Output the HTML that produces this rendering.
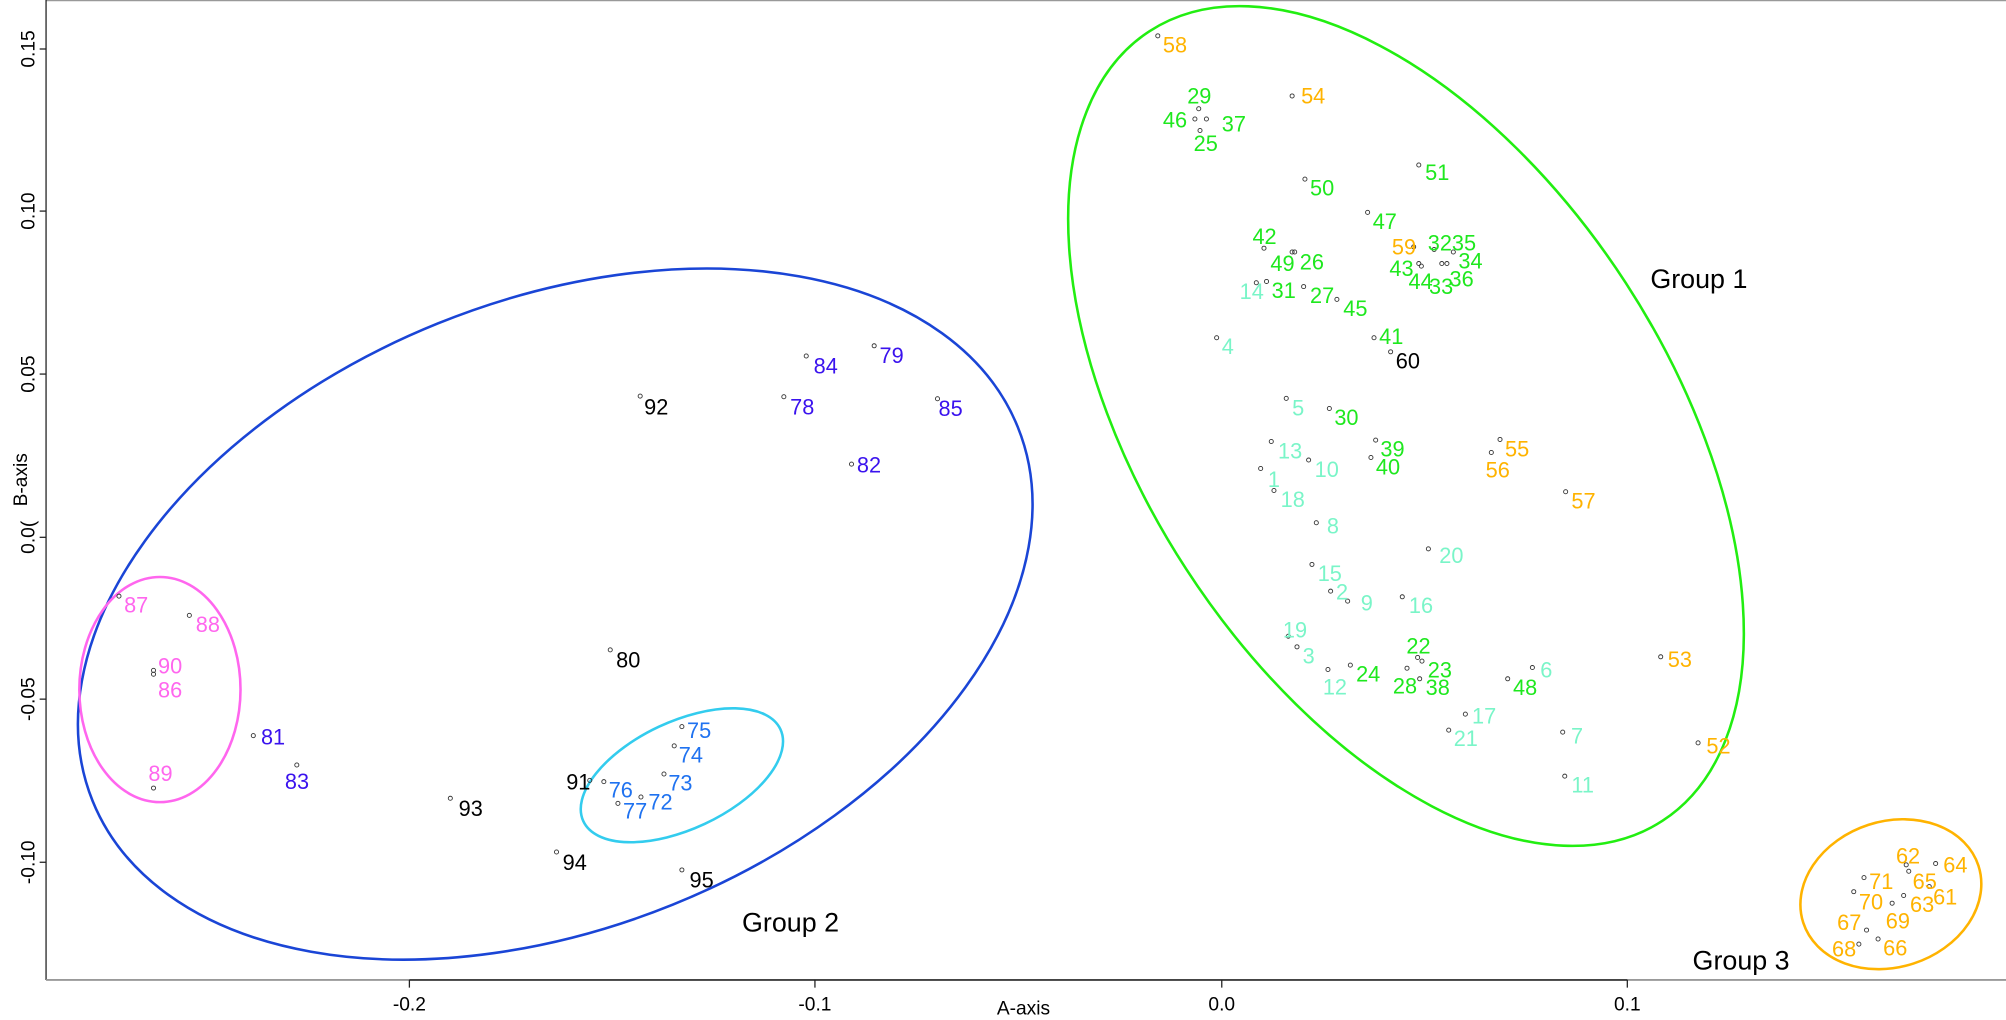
<!DOCTYPE html>
<html><head><meta charset="utf-8"><style>
html,body{margin:0;padding:0;background:#fff;width:2006px;height:1020px;overflow:hidden;}
svg{display:block;position:absolute;left:0;top:0;}
text{font-family:"Liberation Sans",Arial,sans-serif;}
.g{fill:#1ee81e}.l{fill:#7af5c8}.o{fill:#ffb300}.p{fill:#3a12ee}.b{fill:#1f72f0}.m{fill:#ff66ee}.k{fill:#000}
.lab text{font-size:17px;dominant-baseline:central;}
.pt circle{fill:none;stroke:#333;stroke-width:0.7;}
</style></head><body>
<svg width="2006" height="1020" viewBox="0 0 1568 797.3" preserveAspectRatio="none" xmlns="http://www.w3.org/2000/svg" overflow="hidden">
<rect width="1568" height="797.3" fill="#fff"/>
<line x1="36" y1="0.5" x2="1568" y2="0.5" stroke="#999" stroke-width="1"/>
<line x1="36" y1="0" x2="36" y2="766" stroke="#222" stroke-width="1"/>
<line x1="36" y1="766" x2="1568" y2="766" stroke="#999" stroke-width="1.5"/>
<line x1="320" y1="766" x2="1272" y2="766" stroke="#444" stroke-width="1.5"/>
<g stroke="#222" stroke-width="1">
<line x1="320" y1="766" x2="320" y2="772"/><line x1="637" y1="766" x2="637" y2="772"/>
<line x1="955" y1="766" x2="955" y2="772"/><line x1="1272" y1="766" x2="1272" y2="772"/>
<line x1="31" y1="38.3" x2="36" y2="38.3"/><line x1="31" y1="165" x2="36" y2="165"/>
<line x1="31" y1="292.4" x2="36" y2="292.4"/><line x1="31" y1="420" x2="36" y2="420"/>
<line x1="31" y1="546.5" x2="36" y2="546.5"/><line x1="31" y1="674" x2="36" y2="674"/>
</g>
<g font-size="15" fill="#000" text-anchor="middle">
<text x="320" y="790">-0.2</text><text x="637" y="790">-0.1</text><text x="955" y="790">0.0</text><text x="1272" y="790">0.1</text>
<text x="800" y="793">A-axis</text>
<text transform="translate(27,38.3) rotate(-90)">0.15</text>
<text transform="translate(27,165) rotate(-90)">0.10</text>
<text transform="translate(27,292.4) rotate(-90)">0.05</text>
<text transform="translate(27,420) rotate(-90)">0.0(</text>
<text transform="translate(27,546.5) rotate(-90)">-0.05</text>
<text transform="translate(27,674) rotate(-90)">-0.10</text>
<text transform="translate(21,375) rotate(-90)">B-axis</text>
</g>
<g fill="none" stroke-width="2">
<ellipse cx="1099" cy="333" rx="368" ry="205" transform="rotate(57 1099 333)" stroke="#22ee11"/>
<ellipse cx="434" cy="480" rx="390" ry="245" transform="rotate(-22 434 480)" stroke="#1a45d6"/>
<ellipse cx="125" cy="539" rx="63" ry="88" stroke="#ff66ee"/>
<ellipse cx="533" cy="606" rx="85" ry="42" transform="rotate(-25 533 606)" stroke="#33ccee"/>
<ellipse cx="1478" cy="699" rx="72" ry="57" transform="rotate(-18 1478 699)" stroke="#ffb300"/>
</g>
<g font-size="21" fill="#000">
<text x="1290" y="225">Group 1</text>
<text x="580" y="728">Group 2</text>
<text x="1323" y="758">Group 3</text>
</g>
<g class="pt">
<circle cx="905" cy="28" r="1.6"/><circle cx="1010" cy="75" r="1.6"/><circle cx="937" cy="85" r="1.6"/><circle cx="934" cy="93" r="1.6"/><circle cx="943" cy="93" r="1.6"/><circle cx="938" cy="102" r="1.6"/>
<circle cx="1020" cy="140" r="1.6"/><circle cx="1109" cy="129" r="1.6"/><circle cx="1069" cy="166" r="1.6"/><circle cx="988" cy="194" r="1.6"/><circle cx="1010" cy="197" r="1.6"/><circle cx="1012" cy="197" r="1.6"/>
<circle cx="1105" cy="193" r="1.6"/><circle cx="1121" cy="195" r="1.6"/><circle cx="1136" cy="197" r="1.6"/><circle cx="1109" cy="206" r="1.6"/><circle cx="1111" cy="208" r="1.6"/><circle cx="1127" cy="206" r="1.6"/><circle cx="1131" cy="206" r="1.6"/>
<circle cx="982" cy="221" r="1.6"/><circle cx="990" cy="220" r="1.6"/><circle cx="1019" cy="224" r="1.6"/><circle cx="1045" cy="234" r="1.6"/><circle cx="951" cy="264" r="1.6"/><circle cx="1074" cy="264" r="1.6"/><circle cx="1087" cy="275" r="1.6"/>
<circle cx="1005.4" cy="311.4" r="1.6"/><circle cx="1039.1" cy="319.3" r="1.6"/><circle cx="993.7" cy="345.1" r="1.6"/><circle cx="1022.9" cy="359.6" r="1.6"/><circle cx="985.4" cy="366.2" r="1.6"/><circle cx="995.8" cy="383.4" r="1.6"/>
<circle cx="1075.3" cy="344" r="1.6"/><circle cx="1071.6" cy="357.6" r="1.6"/><circle cx="1172.5" cy="343.5" r="1.6"/><circle cx="1165.7" cy="353.7" r="1.6"/><circle cx="1223.8" cy="384.4" r="1.6"/>
<circle cx="1028.9" cy="408.6" r="1.6"/><circle cx="1116.5" cy="429" r="1.6"/><circle cx="1025.5" cy="441.2" r="1.6"/><circle cx="1040.1" cy="462.1" r="1.6"/><circle cx="1053.4" cy="469.9" r="1.6"/><circle cx="1096.1" cy="466.5" r="1.6"/>
<circle cx="1007" cy="497.3" r="1.6"/><circle cx="1013.8" cy="505.6" r="1.6"/><circle cx="1038" cy="523.3" r="1.6"/><circle cx="1055.5" cy="519.9" r="1.6"/><circle cx="1108.1" cy="513.9" r="1.6"/><circle cx="1111.5" cy="516.8" r="1.6"/>
<circle cx="1099.8" cy="522.3" r="1.6"/><circle cx="1109.7" cy="530.6" r="1.6"/><circle cx="1178.5" cy="530.6" r="1.6"/><circle cx="1197.8" cy="521.8" r="1.6"/><circle cx="1298.1" cy="513.4" r="1.6"/>
<circle cx="1145.4" cy="558.2" r="1.6"/><circle cx="1132.4" cy="570.7" r="1.6"/><circle cx="1221.5" cy="572.3" r="1.6"/><circle cx="1223.1" cy="606.7" r="1.6"/><circle cx="1327.3" cy="580.7" r="1.6"/>
<circle cx="1490" cy="676" r="1.6"/><circle cx="1492" cy="681" r="1.6"/><circle cx="1513" cy="675" r="1.6"/><circle cx="1457" cy="686" r="1.6"/><circle cx="1449" cy="697" r="1.6"/><circle cx="1488" cy="700" r="1.6"/>
<circle cx="1508" cy="693" r="1.6"/><circle cx="1479" cy="706" r="1.6"/><circle cx="1459" cy="727" r="1.6"/><circle cx="1453" cy="738" r="1.6"/><circle cx="1468" cy="734" r="1.6"/>
<circle cx="500.4" cy="309.6" r="1.6"/><circle cx="630.2" cy="278.3" r="1.6"/><circle cx="683.3" cy="270.3" r="1.6"/><circle cx="612.7" cy="310.1" r="1.6"/><circle cx="732.8" cy="311.7" r="1.6"/><circle cx="665.6" cy="362.8" r="1.6"/>
<circle cx="477" cy="508" r="1.6"/><circle cx="93" cy="466" r="1.6"/><circle cx="148" cy="481" r="1.6"/><circle cx="120" cy="524" r="1.6"/><circle cx="120" cy="527" r="1.6"/><circle cx="120" cy="616" r="1.6"/>
<circle cx="198" cy="575" r="1.6"/><circle cx="232" cy="598" r="1.6"/><circle cx="352" cy="624" r="1.6"/><circle cx="461" cy="610" r="1.6"/><circle cx="472" cy="611" r="1.6"/><circle cx="483" cy="628" r="1.6"/>
<circle cx="501" cy="623" r="1.6"/><circle cx="519" cy="605" r="1.6"/><circle cx="527" cy="583" r="1.6"/><circle cx="533" cy="568" r="1.6"/><circle cx="435" cy="666" r="1.6"/><circle cx="533" cy="680" r="1.6"/>
</g>
<g class="lab">
<text class="o" x="909" y="35">58</text>
<text class="o" x="1017" y="75">54</text>
<text class="g" x="928" y="75">29</text>
<text class="g" x="909" y="94">46</text>
<text class="g" x="955" y="97">37</text>
<text class="g" x="933" y="112">25</text>
<text class="g" x="1024" y="147">50</text>
<text class="g" x="1114" y="135">51</text>
<text class="g" x="1073" y="173">47</text>
<text class="g" x="979" y="185">42</text>
<text class="g" x="993" y="206">49</text>
<text class="g" x="1016" y="205">26</text>
<text class="o" x="1088" y="193">59</text>
<text class="g" x="1116" y="190">3235</text>
<text class="g" x="1086" y="210">43</text>
<text class="g" x="1140" y="204">34</text>
<text class="g" x="1101" y="220">44</text>
<text class="g" x="1117" y="224">33</text>
<text class="g" x="1133" y="218">36</text>
<text class="l" x="969" y="228">14</text>
<text class="g" x="994" y="227">31</text>
<text class="g" x="1024" y="231">27</text>
<text class="g" x="1050" y="241">45</text>
<text class="l" x="955" y="271">4</text>
<text class="g" x="1078" y="263">41</text>
<text class="k" x="1091" y="282">60</text>
<text class="l" x="1010" y="319">5</text>
<text class="g" x="1043" y="326.5">30</text>
<text class="l" x="999" y="352.4">13</text>
<text class="l" x="1027.6" y="366.9">10</text>
<text class="l" x="991" y="374.8">1</text>
<text class="l" x="1001" y="390.4">18</text>
<text class="g" x="1079" y="351">39</text>
<text class="g" x="1075.5" y="364.9">40</text>
<text class="o" x="1176.4" y="351">55</text>
<text class="o" x="1161.3" y="367.5">56</text>
<text class="o" x="1228.3" y="391.7">57</text>
<text class="l" x="1037.2" y="411">8</text>
<text class="l" x="1125" y="434.4">20</text>
<text class="l" x="1030" y="448.3">15</text>
<text class="l" x="1044.3" y="462.6">2</text>
<text class="l" x="1063.6" y="471.2">9</text>
<text class="l" x="1101.3" y="473.3">16</text>
<text class="l" x="1002.8" y="492.6">19</text>
<text class="l" x="1018.2" y="512.9">3</text>
<text class="l" x="1034" y="536.9">12</text>
<text class="g" x="1060" y="527">24</text>
<text class="g" x="1099.3" y="504.8">22</text>
<text class="g" x="1116" y="523.8">23</text>
<text class="g" x="1088.8" y="536.3">28</text>
<text class="g" x="1114.4" y="537.4">38</text>
<text class="g" x="1182.7" y="537.4">48</text>
<text class="l" x="1204" y="523.8">6</text>
<text class="o" x="1303.6" y="515.5">53</text>
<text class="l" x="1150.6" y="559.8">17</text>
<text class="l" x="1136.3" y="577.3">21</text>
<text class="l" x="1228" y="575.4">7</text>
<text class="l" x="1228.3" y="613.8">11</text>
<text class="o" x="1333.8" y="583.3">52</text>
<text class="o" x="1482" y="669">62</text>
<text class="o" x="1495" y="689">65</text>
<text class="o" x="1519" y="676">64</text>
<text class="o" x="1461" y="689">71</text>
<text class="o" x="1453" y="705">70</text>
<text class="o" x="1493" y="707">63</text>
<text class="o" x="1511" y="701">61</text>
<text class="o" x="1474" y="720">69</text>
<text class="o" x="1436" y="721">67</text>
<text class="o" x="1432" y="742">68</text>
<text class="o" x="1472" y="741">66</text>
<text class="k" x="503.5" y="318">92</text>
<text class="p" x="636" y="286">84</text>
<text class="p" x="687.5" y="278">79</text>
<text class="p" x="617.6" y="318">78</text>
<text class="p" x="733.6" y="319.3">85</text>
<text class="p" x="669.8" y="363.6">82</text>
<text class="k" x="481.6" y="516">80</text>
<text class="m" x="97" y="473">87</text>
<text class="m" x="153" y="488">88</text>
<text class="m" x="123.5" y="520.7">90</text>
<text class="m" x="123.5" y="539.5">86</text>
<text class="m" x="116" y="604.5">89</text>
<text class="p" x="204" y="576">81</text>
<text class="p" x="222.7" y="610.8">83</text>
<text class="k" x="358.5" y="631.8">93</text>
<text class="k" x="442.6" y="611.4">91</text>
<text class="b" x="475.8" y="617.7">76</text>
<text class="b" x="487" y="634">77</text>
<text class="b" x="506.8" y="627">72</text>
<text class="b" x="522.4" y="612.2">73</text>
<text class="b" x="530.6" y="590.3">74</text>
<text class="b" x="537" y="571">75</text>
<text class="k" x="439.8" y="674">94</text>
<text class="k" x="539" y="688">95</text>
</g>
</svg>
</body></html>
